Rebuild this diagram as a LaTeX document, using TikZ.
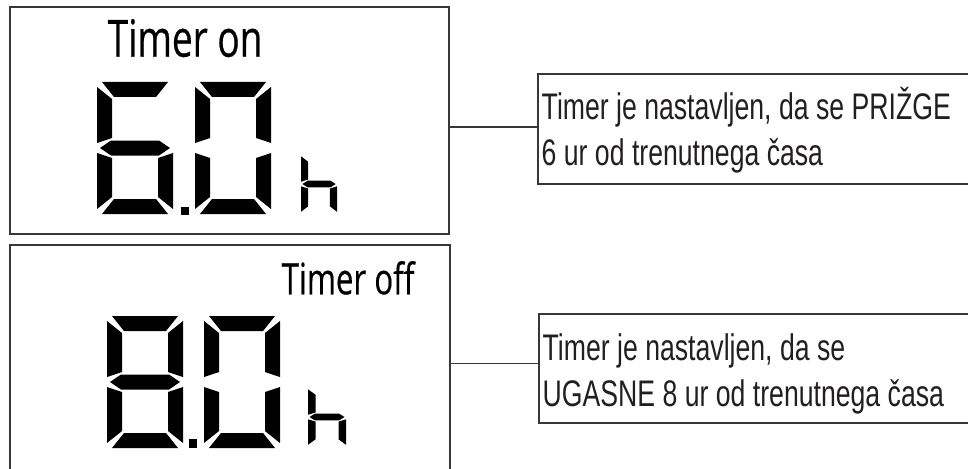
\documentclass[tikz,border=0pt]{standalone}
\usepackage{fontspec}
\setmainfont{Liberation Sans}
\newfontfamily\lcdfont[FakeStretch=0.72,FakeBold=0.4]{Open Sans}
\newfontfamily\notefont[FakeStretch=0.72]{Liberation Sans}
\definecolor{ink}{RGB}{35,31,32}
\definecolor{frame}{RGB}{55,55,55}
% seven-segment pieces in a 76 x 132 cell (y downwards), middle line at 66
\newcommand\sgA{(5,0) -- (71,0) -- (59,15) -- (17,15) -- cycle }
\newcommand\sgB{(76,5) -- (61,17) -- (61,56) -- (76,61) -- cycle }
\newcommand\sgC{(76,127) -- (61,115) -- (61,76) -- (76,71) -- cycle }
\newcommand\sgD{(5,132) -- (71,132) -- (59,117) -- (17,117) -- cycle }
\newcommand\sgE{(0,127) -- (15,115) -- (15,76) -- (0,71) -- cycle }
\newcommand\sgF{(0,5) -- (15,17) -- (15,56) -- (0,61) -- cycle }
\newcommand\sgG{(3,66) -- (14,58.5) -- (62,58.5) -- (73,66) -- (62,73.5) -- (14,73.5) -- cycle }
\tikzset{
  panel/.style={draw=frame, line width=1.6pt, rectangle, inner sep=0pt, outer sep=0pt, anchor=north west},
  notebox/.style={draw=frame, line width=1.3pt, rectangle, inner sep=0pt, outer sep=0pt, anchor=north west},
  link/.style={draw=frame, line width=1.3pt},
  seg/.style={fill=black},
  note/.style={anchor=base west, inner sep=0pt, text=ink, font=\notefont\fontsize{37}{46}\selectfont},
  lcdlabel/.style={anchor=base west, inner sep=0pt, text=black},
}
\begin{document}
\begin{tikzpicture}[x=1pt, y=-1pt]
\useasboundingbox (0,0) rectangle (968,468);
\clip (0,0) rectangle (968,468);
\fill[white] (0,0) rectangle (968,468);

% display panels
\node[panel, minimum width=439pt, minimum height=227pt] (p1) at (10,7) {};
\node[panel, minimum width=440pt, minimum height=240pt] (p2) at (10,245) {};

% note boxes
\node[notebox, minimum width=450pt, minimum height=110pt] (n1) at (538,74) {};
\node[notebox, minimum width=450pt, minimum height=109pt] (n2) at (539,314) {};

% connectors
\coordinate (c1) at ([yshift=1.9pt]n1.west);
\coordinate (c2) at ([yshift=5.2pt]n2.west);
\draw[link] (c1 -| p1.east) -- (c1);
\draw[link] (c2 -| p2.east) -- (c2);

% LCD labels
\node[lcdlabel, font=\lcdfont\fontsize{51.4}{55}\selectfont] (l1) at (107.5,56.7) {Timer on};
\node[lcdlabel, font=\lcdfont\fontsize{43.4}{46}\selectfont] (l2) at (281.5,294.3) {Timer off};

% top display: 6.0 h
\begin{scope}[shift={(97,82)}]
  \fill[seg] \sgA \sgF \sgG \sgE \sgD \sgC;
\end{scope}
\fill[seg] (181,207) rectangle (189,215);
\begin{scope}[shift={(195,82)}]
  \fill[seg] \sgA \sgB \sgC \sgD \sgE \sgF;
\end{scope}
\begin{scope}[shift={(301,154)}, xscale=0.474, yscale=0.455]
  \fill[seg] \sgF \sgE \sgG \sgC;
\end{scope}

% bottom display: 8.0 h
\begin{scope}[shift={(107,316)}]
  \fill[seg] \sgA \sgB \sgC \sgD \sgE \sgF \sgG;
\end{scope}
\fill[seg] (189,439) rectangle (197,448);
\begin{scope}[shift={(204,316)}]
  \fill[seg] \sgA \sgB \sgC \sgD \sgE \sgF;
\end{scope}
\begin{scope}[shift={(308,387)}, xscale=0.5, yscale=0.455]
  \fill[seg] \sgF \sgE \sgG \sgC;
\end{scope}

% notes
\node[note] (t1a) at (541.5,119.5) {Timer je nastavljen, da se PRIŽGE};
\node[note] (t1b) at (541.5,165.5) {6 ur od trenutnega časa};
\node[note] (t2a) at (542.5,360) {Timer je nastavljen, da se};
\node[note] (t2b) at (542.5,406) {UGASNE 8 ur od trenutnega časa};
\end{tikzpicture}
\end{document}
